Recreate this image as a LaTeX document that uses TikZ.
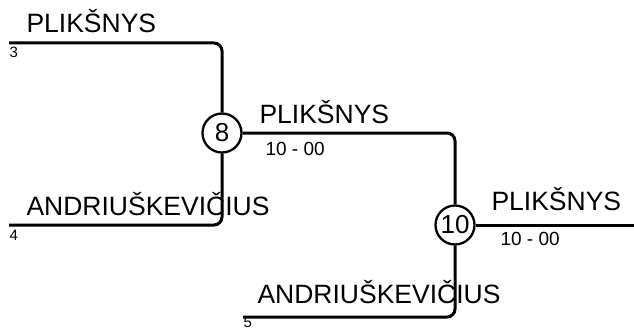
\documentclass[tikz,border=0pt]{standalone}
\usepackage{fontspec}
\setmainfont{Liberation Sans}
\begin{document}
\begin{tikzpicture}[x=1pt, y=-1pt, line width=3pt,
    match/.style = {draw, circle, line width=2.3pt, minimum size=39pt, inner sep=0pt, font=\fontsize{26}{30}\selectfont},
    player/.style = {anchor=base west, inner sep=0pt, font=\fontsize{26.5}{30}\selectfont},
    seed/.style = {anchor=base west, inner sep=0pt, font=\fontsize{15}{17}\selectfont},
    score/.style = {anchor=base west, inner sep=0pt, font=\fontsize{19}{22}\selectfont}]
    \useasboundingbox (0,0) rectangle (634,329);
    % rungtynes
    \node[match] (8) at (222,133) {8};
    \node[match] (10) at (455,225) {10};
    \coordinate (3) at (9,43);
    \coordinate (4) at (9,225);
    \coordinate (5) at (243,317);
    \coordinate (w) at (634,225);

    % linijos
    \draw[rounded corners=8pt] (3) -| (8);
    \draw[rounded corners=8pt] (4) -| (8);
    \draw[rounded corners=8pt] (8) -| (10);
    \draw[rounded corners=8pt] (5) -| (10);
    \draw (10) -- (w);

    % zaidejai
    \node[player] (n3) at (25,33) {PLIKŠNYS};
    \node[seed] (s3) at (8,57) {3};
    \node[player] (n4) at (25,215) {ANDRIUŠKEVIČIUS};
    \node[seed] (s4) at (8,240) {4};
    \node[player] (n8) at (258,123) {PLIKŠNYS};
    \node[score] (r8) at (264,155) {10 - 00};
    \node[player] (n5) at (256,303) {ANDRIUŠKEVIČIUS};
    \node[seed] (s5) at (242,327.5) {5};
    \node[player] (n10) at (490,210) {PLIKŠNYS};
    \node[score] (r10) at (499,245) {10 - 00};
\end{tikzpicture}
\end{document}
